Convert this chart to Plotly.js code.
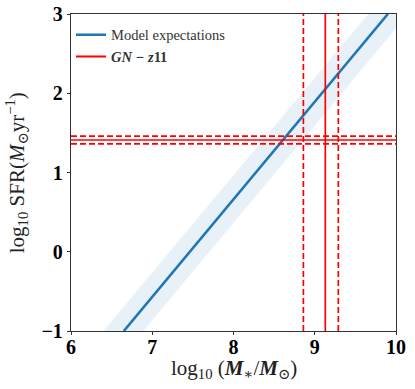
<!DOCTYPE html>
<html>
<head>
<meta charset="utf-8">
<script src="https://cdn.plot.ly/plotly-3.0.1.min.js"></script>
<style>html,body{margin:0;padding:0;background:#fff;}#plot{width:415px;height:389px;}</style>
</head>
<body>
<div id="plot"></div>
<script>
// Model expectation line
const modelMass = [6.65, 9.90];
const modelSFR = [-1.0, 3.0];
// Model uncertainty band edges
const bandMass = [6.0, 10.0];
const bandUpper = [-1.49, 3.42];
const bandLower = [-2.09, 2.82];
// GN-z11 measurements
const gnMass = 9.13, gnMassLo = 8.86, gnMassHi = 9.29;
const gnSFR = 1.41, gnSFRLo = 1.36, gnSFRHi = 1.46;
// axes
const xTicks = [6, 7, 8, 9, 10];
const yTicks = [-1, 0, 1, 2, 3];

const red = '#ff0000';
const serif = 'Liberation Serif, DejaVu Serif, serif';
const traces = [
  {x: bandMass, y: bandLower, mode: 'lines', line: {width: 0, color: 'rgba(0,0,0,0)'}, showlegend: false, hoverinfo: 'skip'},
  {x: bandMass, y: bandUpper, mode: 'lines', line: {width: 0, color: 'rgba(0,0,0,0)'}, fill: 'tonexty', fillcolor: 'rgba(31,119,180,0.1)', showlegend: false, hoverinfo: 'skip'},
  {x: modelMass, y: modelSFR, mode: 'lines', name: 'Model expectations', line: {color: '#1f77b4', width: 2.6}},
  {x: [null], y: [null], mode: 'lines', name: '<b><i>GN − z</i>11</b>', line: {color: red, width: 2}}
];

const shapes = [];
function vline(v, dash) { shapes.push({type: 'line', xref: 'x', yref: 'paper', x0: v, x1: v, y0: 0, y1: 1, line: {color: red, width: 1.7, dash: dash}}); }
function hline(v, dash) { shapes.push({type: 'line', xref: 'paper', yref: 'y', x0: 0, x1: 1, y0: v, y1: v, line: {color: red, width: 1.7, dash: dash}}); }
vline(gnMass, 'solid'); vline(gnMassLo, '6px,3px'); vline(gnMassHi, '6px,3px');
hline(gnSFR, 'solid'); hline(gnSFRLo, '6px,3px'); hline(gnSFRHi, '6px,3px');

const tickFont = {family: serif, size: 20, color: '#000', weight: 'bold'};
const layout = {
  width: 415, height: 389,
  margin: {l: 71, r: 19, t: 14, b: 58},
  paper_bgcolor: '#fff', plot_bgcolor: '#fff',
  showlegend: true,
  legend: {x: 0.0, y: 0.985, xanchor: 'left', yanchor: 'top', traceorder: 'normal', bgcolor: 'rgba(255,255,255,0)', font: {family: serif, size: 14.5, color: '#333'}, tracegroupgap: 0},
  xaxis: {range: [6, 10], tickvals: xTicks, ticktext: xTicks.map(String), ticks: 'outside', ticklen: 3, ticklabelstandoff: -5, tickcolor: '#333', showline: true, mirror: true, linecolor: '#333', linewidth: 1.2, showgrid: false, zeroline: false, tickfont: tickFont},
  yaxis: {range: [-1, 3], tickvals: yTicks, ticktext: yTicks.map(v => v < 0 ? '−' + Math.abs(v) : String(v)), ticks: 'outside', ticklen: 3, tickcolor: '#333', showline: true, mirror: true, linecolor: '#333', linewidth: 1.2, showgrid: false, zeroline: false, tickfont: tickFont},
  annotations: [
    {xref: 'paper', yref: 'paper', x: 0.5, y: -0.12, xanchor: 'center', yanchor: 'middle', showarrow: false,
     text: 'log<sub>10</sub> (<b><i>M</i></b><sub>∗</sub>/<b><i>M</i></b><sub>⊙</sub>)', font: {family: serif, size: 21, color: '#222'}},
    {xref: 'paper', yref: 'paper', x: -0.167, y: 0.5, xanchor: 'center', yanchor: 'middle', textangle: -90, showarrow: false,
     text: 'log<sub>10</sub> SFR(<i>M</i><sub>⊙</sub>yr<sup>−1</sup>)', font: {family: serif, size: 21, color: '#222'}}
  ],
  shapes: shapes
};
Plotly.newPlot('plot', traces, layout, {displayModeBar: false, staticPlot: true});
</script>
</body>
</html>
